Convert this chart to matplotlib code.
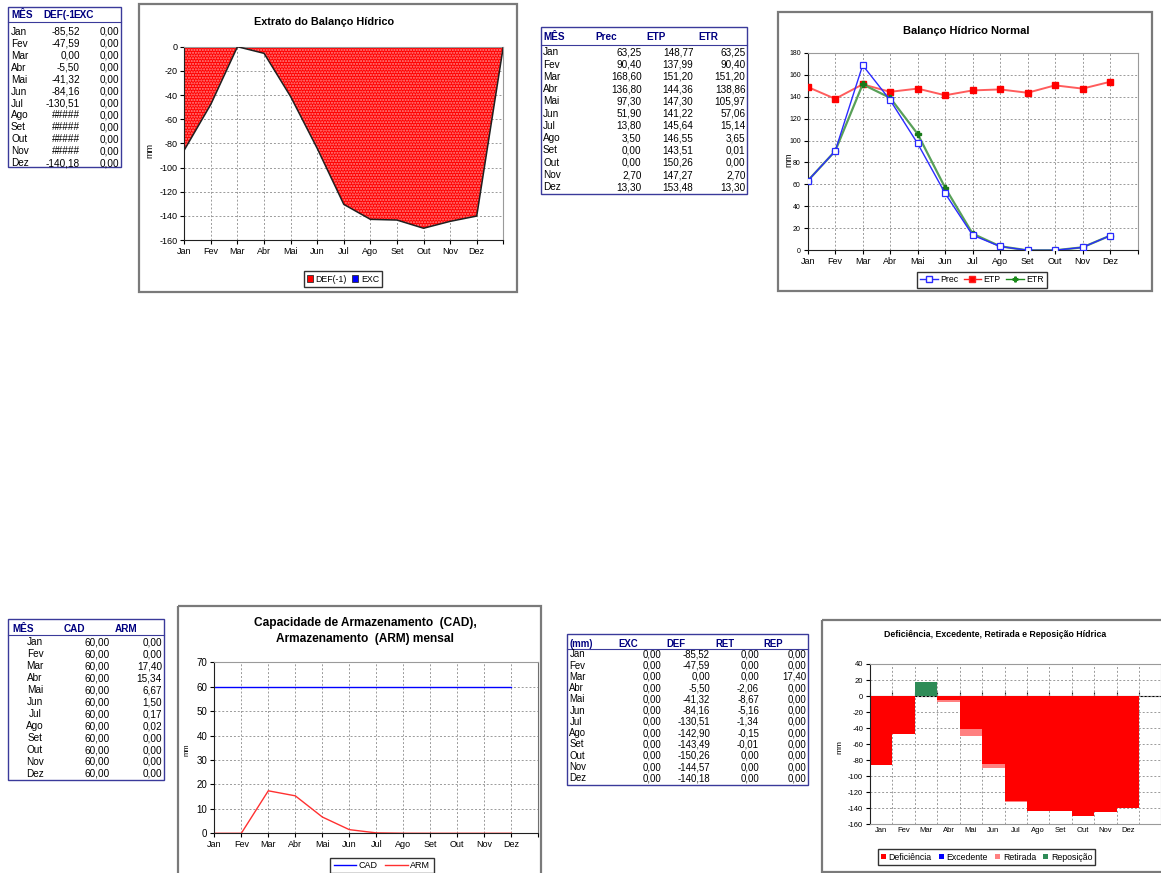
import matplotlib
matplotlib.use("Agg")
import matplotlib.pyplot as plt
from matplotlib.patches import Rectangle, Patch
from matplotlib.lines import Line2D

plt.rcParams['font.family'] = ['Liberation Sans', 'DejaVu Sans']
plt.rcParams['axes.unicode_minus'] = False

W, H = 1161, 873

months = ['Jan', 'Fev', 'Mar', 'Abr', 'Mai', 'Jun', 'Jul', 'Ago', 'Set', 'Out', 'Nov', 'Dez']
prec = [63.25, 90.40, 168.60, 136.80, 97.30, 51.90, 13.80, 3.50, 0.00, 0.00, 2.70, 13.30]
etp = [148.77, 137.99, 151.20, 144.36, 147.30, 141.22, 145.64, 146.55, 143.51, 150.26, 147.27, 153.48]
etr = [63.25, 90.40, 151.20, 138.86, 105.97, 57.06, 15.14, 3.65, 0.01, 0.00, 2.70, 13.30]
deficiencia = [-85.52, -47.59, 0.00, -5.50, -41.32, -84.16, -130.51, -142.90, -143.49, -150.26, -144.57, -140.18]
excedente = [0.00] * 12
cad = [60.00] * 12
arm = [0.00, 0.00, 17.40, 15.34, 6.67, 1.50, 0.17, 0.02, 0.00, 0.00, 0.00, 0.00]
retirada = [0.00, 0.00, 0.00, -2.06, -8.67, -5.16, -1.34, -0.15, -0.01, 0.00, 0.00, 0.00]
reposicao = [0.00, 0.00, 17.40, 0.00, 0.00, 0.00, 0.00, 0.00, 0.00, 0.00, 0.00, 0.00]
# cells too narrow for the value in the first table
def_overflow = ['Ago', 'Set', 'Out', 'Nov']

NAVY = '#000080'
BOX = '#3a3a9a'
FRAME = '#7a7a7a'
GRID = dict(color='#9a9a9a', linestyle=(0, (2, 2)), linewidth=0.7)


def fmt(v):
    return f"{v:.2f}".replace('.', ',')


fig = plt.figure(figsize=(W / 100, H / 100), dpi=100)
fig.patch.set_facecolor('white')

# pixel-space layer for frames, tables and titles
ov = fig.add_axes([0, 0, 1, 1])
ov.set_xlim(0, W)
ov.set_ylim(H, 0)
ov.axis('off')


def px_axes(x0, y0, x1, y1):
    return fig.add_axes([x0 / W, 1 - y1 / H, (x1 - x0) / W, (y1 - y0) / H])


def frame(x0, y0, x1, y1):
    ov.add_patch(Rectangle((x0, y0), x1 - x0, y1 - y0, fill=False, ec=FRAME, lw=1.6))


def table(box, line_y, head_y, heads, row_y0, dy, columns, fs=7.2):
    x0, y0, x1, y1 = box
    ov.add_patch(Rectangle((x0, y0), x1 - x0, y1 - y0, fill=False, ec=BOX, lw=1))
    ov.plot([x0, x1], [line_y, line_y], color=BOX, lw=0.8)
    for text, hx in heads:
        ov.text(hx, head_y, text, ha='left', va='center', fontsize=fs,
                fontweight='bold', color=NAVY)
    for cx, ha, texts in columns:
        for i, t in enumerate(texts):
            ov.text(cx, row_y0 + i * dy, t, ha=ha, va='center', fontsize=fs)


def style_axes(ax, labelsize=6.5):
    for side in ['top', 'right']:
        ax.spines[side].set_color('#9a9a9a')
    for side in ['left', 'bottom']:
        ax.spines[side].set_color('#202020')
    ax.tick_params(length=3, width=0.8, labelsize=labelsize, pad=2)
    ax.set_axisbelow(True)


# ---------- tables ----------
def_txt = ['#####' if m in def_overflow else fmt(v) for m, v in zip(months, deficiencia)]
table((8, 7, 121, 167), 21.7, 15, [('MÊS', 11), ('DEF(-1', 43), ('EXC', 73)],
      31.7, 11.97,
      [(11, 'left', months), (80, 'right', def_txt),
       (119.5, 'right', [fmt(v) for v in excedente])])

table((541, 27, 747, 194), 45, 37.3,
      [('MÊS', 543), ('Prec', 595.7), ('ETP', 646.7), ('ETR', 698.3)],
      52.3, 12.27,
      [(543, 'left', months), (641.7, 'right', [fmt(v) for v in prec]),
       (693.3, 'right', [fmt(v) for v in etp]), (745.5, 'right', [fmt(v) for v in etr])])

table((8, 619, 163.5, 780), 635, 629.3, [('MÊS', 12), ('CAD', 63.3), ('ARM', 115)],
      642.3, 11.97,
      [(35, 'center', months), (109.3, 'right', [fmt(v) for v in cad]),
       (162, 'right', [fmt(v) for v in arm])])

table((566.7, 634, 808.3, 785), 649.3, 644,
      [('(mm)', 569.3), ('EXC', 618.3), ('DEF', 666), ('RET', 715), ('REP', 763.3)],
      654.3, 11.27,
      [(569.3, 'left', months), (661, 'right', [fmt(v) for v in excedente]),
       (710, 'right', [fmt(v) for v in deficiencia]),
       (759, 'right', [fmt(v) for v in retirada]),
       (806.7, 'right', [fmt(v) for v in reposicao])], fs=6.9)

# ---------- Extrato do Balanço Hídrico ----------
frame(139, 4, 517, 291.5)
ov.text(324, 21.7, 'Extrato do Balanço Hídrico', ha='center', va='center',
        fontsize=7.8, fontweight='bold')
ov.text(150, 150, 'mm', rotation=90, ha='center', va='center', fontsize=6.5)
ax1 = px_axes(184.3, 46.7, 503.3, 240)
x13 = list(range(13))
ext = deficiencia + [0.0]
ax1.fill_between(x13, ext, 0, facecolor='#ff0000', edgecolor='#ff8a8a',
                 hatch='......', linewidth=0, zorder=2)
ax1.plot(x13, ext, color='#202020', lw=1.1, zorder=3)
ax1.set_xlim(0, 12)
ax1.set_ylim(-160, 0)
ax1.set_yticks(range(-160, 1, 20))
ax1.set_xticks(x13)
ax1.set_xticklabels(months + [''])
ax1.grid(True, **GRID)
style_axes(ax1)
ax1.legend(handles=[Patch(fc='#ff0000', ec='#303030', lw=0.6, label='DEF(-1)'),
                    Patch(fc='#0000ff', ec='#303030', lw=0.6, label='EXC')],
           loc='center', bbox_to_anchor=(343, 279), bbox_transform=ov.transData,
           ncol=2, fontsize=6.3, frameon=True, fancybox=False, edgecolor='black',
           handlelength=0.7, handleheight=0.7, handletextpad=0.3, columnspacing=0.6,
           borderpad=0.35, borderaxespad=0)

# ---------- Balanço Hídrico Normal ----------
frame(778.3, 12.3, 1151.7, 291)
ov.text(966.7, 31, 'Balanço Hídrico Normal', ha='center', va='center',
        fontsize=8, fontweight='bold')
ov.text(789, 160, 'mm', rotation=90, ha='center', va='center', fontsize=6.3)
ax2 = px_axes(807.7, 52.7, 1137.5, 250.3)
x12 = list(range(12))
ax2.plot(x12, etp, color='#ff5c5c', lw=1.4, marker='s', ms=4.5,
         mfc='#ff0000', mec='#ff0000', zorder=3, label='ETP')
ax2.plot(x12, etr, color='#58a058', lw=1.6, marker='P', ms=4,
         mfc='#1a7a1a', mec='#1a7a1a', zorder=4, label='ETR')
ax2.plot(x12, prec, color='#2a2aff', lw=1.0, marker='s', ms=4.5,
         mfc='white', mec='#2a2aff', mew=0.9, zorder=5, label='Prec')
ax2.set_xlim(0, 12)
ax2.set_ylim(0, 180)
ax2.set_yticks(range(0, 181, 20))
ax2.set_xticks(x13)
ax2.set_xticklabels(months + [''])
ax2.grid(True, **GRID)
style_axes(ax2)
ax2.tick_params(axis='y', labelsize=5)
ax2.legend(handles=[Line2D([], [], color='#2a2aff', lw=1, marker='s', ms=4, mfc='white', label='Prec'),
                    Line2D([], [], color='#ff2020', lw=1, marker='s', ms=4, mfc='#ff0000', label='ETP'),
                    Line2D([], [], color='#1a8a1a', lw=1, marker='P', ms=3.5, label='ETR')],
           loc='center', bbox_to_anchor=(982, 280), bbox_transform=ov.transData,
           ncol=3, fontsize=6.3, frameon=True, fancybox=False, edgecolor='black',
           handlelength=2.0, handletextpad=0.3, columnspacing=0.6,
           borderpad=0.35, borderaxespad=0)

# ---------- Capacidade de Armazenamento ----------
frame(178, 606, 541, 885)
ov.text(365, 623.3, 'Capacidade de Armazenamento  (CAD),', ha='center', va='center',
        fontsize=8.6, fontweight='bold')
ov.text(365, 639.3, 'Armazenamento  (ARM) mensal', ha='center', va='center',
        fontsize=8.6, fontweight='bold')
ov.text(187, 750, 'mm', rotation=90, ha='center', va='center', fontsize=5.5)
ax3 = px_axes(214.3, 662.3, 538.3, 833.3)
ax3.plot(x12, cad, color='#0000ff', lw=1.0, zorder=2)
ax3.plot(x12, arm, color='#ff3030', lw=1.0, zorder=2)
ax3.set_xlim(0, 12)
ax3.set_ylim(0, 70)
ax3.set_yticks(range(0, 71, 10))
ax3.set_xticks(x13)
ax3.set_xticklabels(months + [''])
ax3.grid(True, **GRID)
style_axes(ax3)
ax3.tick_params(axis='y', labelsize=7)
ax3.spines['right'].set_color('#707070')
ax3.legend(handles=[Line2D([], [], color='#0000ff', lw=1, label='CAD'),
                    Line2D([], [], color='#ff3030', lw=1, label='ARM')],
           loc='upper center', bbox_to_anchor=(382, 858), bbox_transform=ov.transData,
           ncol=2, fontsize=6.5, frameon=True, fancybox=False, edgecolor='black',
           handlelength=2.5, handletextpad=0.3, columnspacing=0.8,
           borderpad=0.35, borderaxespad=0)

# ---------- Deficiência, Excedente, Retirada e Reposição ----------
frame(821.7, 620, 1175, 871.7)
ov.text(995, 634.3, 'Deficiência, Excedente, Retirada e Reposição Hídrica', ha='center',
        va='center', fontsize=6.3, fontweight='bold')
ov.text(840, 746.7, 'mm', rotation=90, ha='center', va='center', fontsize=6)
ax4 = px_axes(870, 664, 870 + 13 * 22.42, 824.3)
ax4.bar(x12, deficiencia, width=1.0, color='#ff0000', lw=0, zorder=2)
ax4.bar(x12, retirada, bottom=deficiencia, width=1.0, color='#ff8080', lw=0, zorder=2)
ax4.bar(x12, excedente, width=1.0, color='#0000ff', lw=0, zorder=2)
ax4.bar(x12, reposicao, width=1.0, color='#2e8b57', lw=0, zorder=2)
ax4.set_xlim(-0.5, 12.5)
ax4.set_ylim(-160, 40)
ax4.set_yticks(range(-160, 41, 20))
ax4.set_xticks(x12)
ax4.set_xticklabels(months)
ax4.set_xticks([k - 0.5 for k in range(14)], minor=True)
ax4.grid(False)
ax4.grid(True, axis='y', **GRID)
ax4.grid(True, axis='x', which='minor', **GRID)
style_axes(ax4, labelsize=5.5)
ax4.tick_params(axis='x', which='both', length=0)
ax4.spines['bottom'].set_color('#9a9a9a')
zero = ax4.secondary_xaxis(0.8)
zero.set_xticks([k - 0.5 for k in range(13)])
zero.set_xticklabels([])
zero.tick_params(length=3, width=0.8, direction='out', color='#202020')
zero.spines['bottom'].set_color('#404040')
zero.spines['bottom'].set_linewidth(1.0)
ax4.legend(handles=[Patch(fc='#ff0000', label='Deficiência'),
                    Patch(fc='#0000ff', label='Excedente'),
                    Patch(fc='#ff8080', label='Retirada'),
                    Patch(fc='#2e8b57', label='Reposição')],
           loc='center', bbox_to_anchor=(986.5, 857), bbox_transform=ov.transData,
           ncol=4, fontsize=6.3, frameon=True, fancybox=False, edgecolor='black',
           handlelength=0.6, handleheight=0.6, handletextpad=0.3, columnspacing=0.8,
           borderpad=0.35, borderaxespad=0)

fig.savefig('out.png', dpi=100)
